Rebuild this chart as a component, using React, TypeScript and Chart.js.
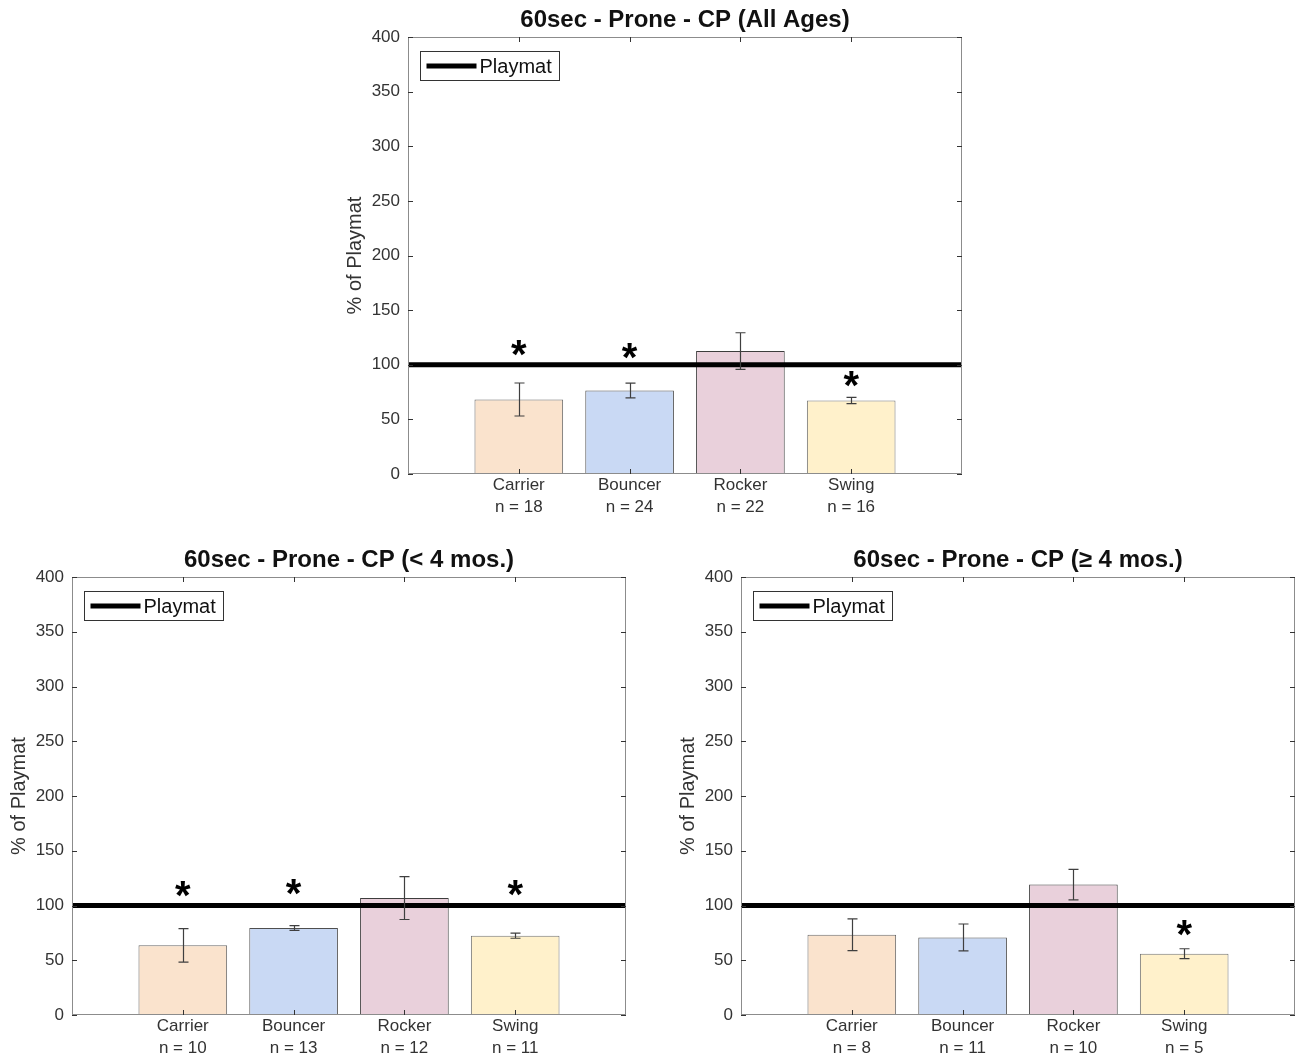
import React, { useEffect, useRef } from 'react';
import { Chart, registerables } from 'chart.js';

Chart.register(...registerables);

// ---------- data ----------
const categories = ['Carrier', 'Bouncer', 'Rocker', 'Swing'];
const barColors = ['#FAE3CD', '#C9D9F4', '#E9D0DB', '#FFF1CB'];
const barBorders = ['#6a6a6a', '#4f4f4f', '#3d3d3d', '#747474'];
const yTickValues = [0, 50, 100, 150, 200, 250, 300, 350, 400];
const baselineLabel = 'Playmat';
const baselineValue = 100;
const yAxisTitle = '% of Playmat';

const allTitle = '60sec - Prone - CP (All Ages)';
const allN = [18, 24, 22, 16];
const allMean = [68.2, 76.4, 112.5, 67.3];
const allErr = [15.1, 6.7, 16.8, 2.8];
const allStar: (number | null)[] = [115, 113, null, 87];

const youngTitle = '60sec - Prone - CP (< 4 mos.)';
const youngN = [10, 13, 12, 11];
const youngMean = [63.6, 79.4, 106.8, 72.4];
const youngErr = [15.3, 2.2, 19.6, 2.3];
const youngStar: (number | null)[] = [115, 117, null, 116];

const olderTitle = '60sec - Prone - CP (\u2265 4 mos.)';
const olderN = [8, 11, 10, 5];
const olderMean = [73.2, 70.8, 119.1, 56.0];
const olderErr = [14.5, 12.3, 13.9, 4.5];
const olderStar: (number | null)[] = [null, null, null, 79];

// ---------- layout ----------
const FONT = "'Liberation Sans', Arial, Helvetica, sans-serif";
const AXIS_W = 78;

const panels = [
  { title: allTitle, n: allN, mean: allMean, err: allErr, star: allStar, left: 330, top: 0, width: 650, height: 530, plotBottom: 474, padRight: 18 },
  { title: youngTitle, n: youngN, mean: youngMean, err: youngErr, star: youngStar, left: -6, top: 540, width: 650, height: 517, plotBottom: 475, padRight: 18 },
  { title: olderTitle, n: olderN, mean: olderMean, err: olderErr, star: olderStar, left: 663, top: 540, width: 633, height: 517, plotBottom: 475, padRight: 1 },
];

const decorPlugin = {
  id: 'decor',
  afterDatasetsDraw(chart: any, _args: any, opts: any) {
    const { ctx, chartArea: a, scales } = chart;
    const x = scales.x;
    const y = scales.y;
    ctx.save();
    // error bars
    ctx.strokeStyle = '#3f3f3f';
    ctx.lineWidth = 1.2;
    opts.mean.forEach((m: number, i: number) => {
      const px = Math.round(x.getPixelForValue(i + 1)) + 0.5;
      const t = y.getPixelForValue(m + opts.err[i]);
      const b = y.getPixelForValue(m - opts.err[i]);
      ctx.beginPath();
      ctx.moveTo(px, t); ctx.lineTo(px, b);
      ctx.moveTo(px - 5, t); ctx.lineTo(px + 5, t);
      ctx.moveTo(px - 5, b); ctx.lineTo(px + 5, b);
      ctx.stroke();
    });
    // significance stars
    ctx.fillStyle = '#000';
    ctx.font = `bold 40px ${FONT}`;
    ctx.textAlign = 'center';
    ctx.textBaseline = 'alphabetic';
    const mt = ctx.measureText('*');
    const asc = mt.actualBoundingBoxAscent;
    const desc = mt.actualBoundingBoxDescent;
    opts.star.forEach((s: number | null, i: number) => {
      if (s == null) return;
      const px = x.getPixelForValue(i + 1);
      const yc = y.getPixelForValue(s);
      ctx.fillText('*', px, yc + (asc - desc) / 2);
    });
    // axes box
    ctx.strokeStyle = '#8c8c8c';
    ctx.lineWidth = 1;
    ctx.strokeRect(a.left + 0.5, a.top + 0.5, a.right - a.left - 1, a.bottom - a.top - 1);
    // inward ticks
    ctx.strokeStyle = '#333';
    ctx.beginPath();
    y.ticks.forEach((t: any) => {
      const py = Math.round(y.getPixelForValue(t.value)) + 0.5;
      ctx.moveTo(a.left, py); ctx.lineTo(a.left + 5, py);
      ctx.moveTo(a.right - 5, py); ctx.lineTo(a.right, py);
    });
    x.ticks.forEach((t: any) => {
      const px = Math.round(x.getPixelForValue(t.value)) + 0.5;
      ctx.moveTo(px, a.bottom); ctx.lineTo(px, a.bottom - 5);
      ctx.moveTo(px, a.top); ctx.lineTo(px, a.top + 5);
    });
    ctx.stroke();
    ctx.restore();
  },
  afterDraw(chart: any) {
    const { ctx, chartArea: a } = chart;
    const ds = chart.data.datasets.find((d: any) => d.type === 'line');
    if (!ds) return;
    ctx.save();
    const bx = a.left + 12.5, by = a.top + 14.5, bw = 139, bh = 29;
    ctx.fillStyle = '#fff';
    ctx.fillRect(bx, by, bw, bh);
    ctx.strokeStyle = '#333';
    ctx.lineWidth = 1;
    ctx.strokeRect(bx, by, bw, bh);
    const my = by + bh / 2;
    ctx.strokeStyle = ds.borderColor;
    ctx.lineWidth = ds.borderWidth;
    ctx.beginPath();
    ctx.moveTo(bx + 6, my); ctx.lineTo(bx + 56, my);
    ctx.stroke();
    ctx.fillStyle = '#111';
    ctx.font = `20px ${FONT}`;
    ctx.textAlign = 'left';
    ctx.textBaseline = 'middle';
    ctx.fillText(ds.label, bx + 59, my + 1);
    ctx.restore();
  },
};

function Panel({ p }: { p: typeof panels[number] }) {
  const ref = useRef<HTMLCanvasElement>(null);
  useEffect(() => {
    if (!ref.current) return;
    const positions = categories.map((_, i) => i + 1);
    const chart = new Chart(ref.current, {
      type: 'bar',
      data: {
        datasets: [
          {
            type: 'line',
            label: baselineLabel,
            data: [{ x: 0, y: baselineValue }, { x: categories.length + 1, y: baselineValue }],
            borderColor: '#000',
            borderWidth: 5,
            pointRadius: 0,
            order: 1,
          } as any,
          {
            type: 'bar',
            label: 'mean',
            data: categories.map((_, i) => ({ x: i + 1, y: p.mean[i] })),
            backgroundColor: barColors,
            borderColor: barBorders,
            borderWidth: 1,
            barPercentage: 0.8,
            categoryPercentage: 1,
            order: 2,
          } as any,
        ],
      },
      options: {
        responsive: false,
        animation: false,
        events: [],
        layout: { padding: { top: 0, left: 0, right: p.padRight, bottom: 0 } },
        plugins: {
          legend: { display: false },
          tooltip: { enabled: false },
          title: {
            display: true,
            text: p.title,
            fullSize: false,
            color: '#111',
            font: { family: FONT, size: 24, weight: 'bold', lineHeight: 1.2 },
            padding: { top: 5.6, bottom: 2.6 },
          },
          decor: { mean: p.mean, err: p.err, star: p.star },
        } as any,
        scales: {
          x: {
            type: 'linear',
            min: 0,
            max: categories.length + 1,
            offset: false,
            grid: { display: false, drawTicks: false, offset: false },
            border: { display: false },
            afterBuildTicks: (scale: any) => {
              scale.ticks = positions.map((v) => ({ value: v }));
            },
            afterFit: (scale: any) => {
              scale.height = p.height - p.plotBottom;
            },
            ticks: {
              autoSkip: false,
              maxRotation: 0,
              padding: 0,
              color: '#333',
              font: { family: FONT, size: 17, lineHeight: 1.3 },
              callback: (value: any) => {
                const i = positions.indexOf(Number(value));
                return i >= 0 ? [categories[i], 'n = ' + p.n[i]] : '';
              },
            },
          },
          y: {
            type: 'linear',
            min: yTickValues[0],
            max: yTickValues[yTickValues.length - 1],
            grid: { display: false, drawTicks: false },
            border: { display: false },
            afterBuildTicks: (scale: any) => {
              scale.ticks = yTickValues.map((v) => ({ value: v }));
            },
            afterFit: (scale: any) => {
              scale.width = AXIS_W;
            },
            ticks: {
              padding: 8,
              color: '#333',
              font: { family: FONT, size: 17 },
            },
            title: {
              display: true,
              text: yAxisTitle,
              color: '#333',
              font: { family: FONT, size: 20, lineHeight: 1.2 },
              padding: { top: 13, bottom: 0 },
            },
          },
        },
      } as any,
      plugins: [decorPlugin],
    });
    return () => chart.destroy();
  }, []);
  return (
    <canvas
      ref={ref}
      width={p.width}
      height={p.height}
      style={{ position: 'absolute', left: p.left, top: p.top, width: p.width, height: p.height }}
    />
  );
}

export default function App() {
  return (
    <div style={{ position: 'absolute', left: 0, top: 0, width: 1296, height: 1057, overflow: 'hidden', background: '#fff' }}>
      {panels.map((p, i) => (
        <Panel key={i} p={p} />
      ))}
    </div>
  );
}
